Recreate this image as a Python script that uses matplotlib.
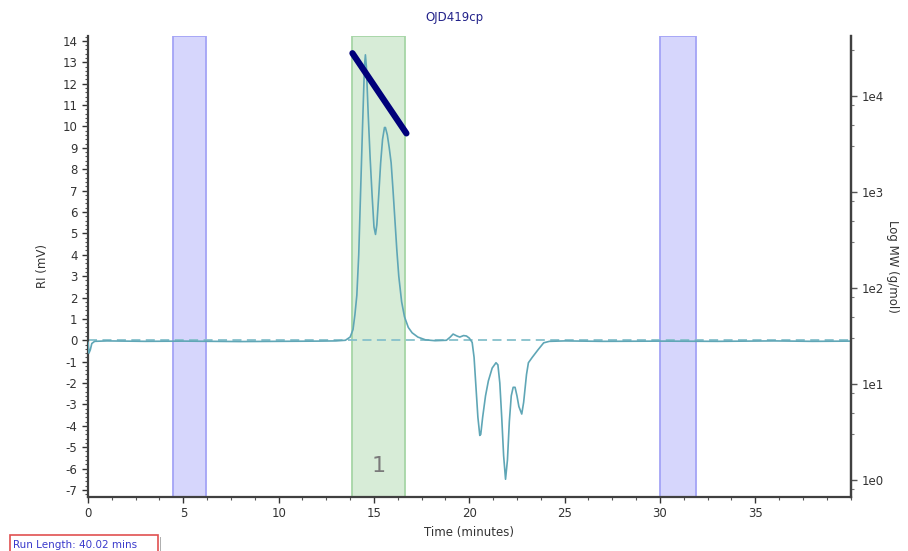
import matplotlib
matplotlib.use("Agg")
import matplotlib.pyplot as plt
from matplotlib.ticker import MultipleLocator, LogLocator, FixedLocator, NullFormatter
from matplotlib.patches import Rectangle

plt.rcParams['font.family'] = ['DejaVu Sans']
plt.rcParams['axes.unicode_minus'] = False

# RI detector trace (minutes, mV)
time_min = [0.0, 0.05, 0.12, 0.2, 0.35, 1.0, 3.0, 5.0, 8.0, 10.0, 12.0, 13.0, 13.5, 13.75,
            13.9, 14.0, 14.1, 14.2, 14.3, 14.4, 14.5, 14.55, 14.6, 14.7, 14.8, 14.9,
            15.0, 15.08, 15.15, 15.25, 15.35, 15.45, 15.55, 15.6, 15.7, 15.8, 15.9,
            16.0, 16.1, 16.2, 16.3, 16.45, 16.6, 16.8, 17.0, 17.3, 17.7, 18.2, 18.8,
            19.0, 19.15, 19.35, 19.5, 19.7, 19.85, 20.0, 20.15, 20.25, 20.35, 20.45,
            20.55, 20.6, 20.7, 20.85, 21.0, 21.2, 21.4, 21.5, 21.6, 21.7, 21.8, 21.9,
            22.0, 22.1, 22.2, 22.3, 22.4, 22.5, 22.6, 22.75, 22.85, 23.0, 23.1, 23.3,
            23.6, 23.9, 24.2, 25.0, 27.0, 30.0, 33.0, 36.0, 38.0, 40.02]
ri_mv = [-0.1, -0.6, -0.45, -0.15, -0.05, -0.03, -0.05, -0.04, -0.06, -0.05, -0.04, -0.03,
         0.0, 0.15, 0.5, 1.2, 2.1, 4.0, 7.0, 10.0, 12.8, 13.35, 12.8, 10.5, 8.5, 6.8,
         5.3, 4.95, 5.4, 6.8, 8.3, 9.4, 9.95, 9.95, 9.6, 9.0, 8.3, 7.0, 5.6, 4.2,
         3.0, 1.8, 1.1, 0.6, 0.35, 0.15, 0.02, -0.02, 0.0, 0.15, 0.29, 0.2, 0.15,
         0.22, 0.2, 0.1, -0.1, -0.8, -2.2, -3.6, -4.45, -4.4, -3.6, -2.6, -1.9, -1.3,
         -1.05, -1.15, -2.0, -3.6, -5.4, -6.5, -5.6, -3.8, -2.6, -2.2, -2.2, -2.6,
         -3.1, -3.45, -2.9, -1.6, -1.05, -0.8, -0.45, -0.12, -0.05, -0.03, -0.05,
         -0.04, -0.05, -0.03, -0.05, -0.04]

# Calibration curve over the integration window (minutes, g/mol)
calib_time = [13.87, 16.70]
calib_mw = [27900, 4080]

# Baseline / integration regions (minutes)
baseline_regions = [(4.47, 6.18), (29.98, 31.87)]
peak_region = (13.85, 16.62)
peak_label = "1"

x_ticks = [0, 5, 10, 15, 20, 25, 30, 35]
y_ticks = list(range(-7, 15))
mw_ticks = [1, 10, 100, 1000, 10000]
mw_tick_labels = ["1e0", "1e1", "1e2", "1e3", "1e4"]

run_length = 40.02

fig = plt.figure(figsize=(9.08, 5.51), dpi=100)
fig.patch.set_facecolor('white')
ax = fig.add_axes([88 / 908, 1 - 497 / 551, (851 - 88) / 908, (497 - 36) / 551])

ax.set_xlim(0, run_length)
ax.set_ylim(-7.33, 14.23)

spine_col = '#404040'
for s in ('left', 'bottom', 'right'):
    ax.spines[s].set_color(spine_col)
    ax.spines[s].set_linewidth(1.6)
ax.spines['top'].set_visible(False)

for lo, hi in baseline_regions:
    ax.axvspan(lo, hi, facecolor='#d6d6fc', edgecolor='#a4a4f6', linewidth=1.3, zorder=1)
ax.axvspan(peak_region[0], peak_region[1], facecolor='#d7ecd7', edgecolor='#a6d5a6',
           linewidth=1.3, zorder=1)
ax.text((peak_region[0] + peak_region[1]) / 2, -5.9, peak_label, ha='center', va='center',
        fontsize=16, color='#7a7a7a', zorder=3)

ax.axhline(0, color='#86c0cb', linewidth=1.3, linestyle=(0, (5, 3)), zorder=2)
ax.plot(time_min, ri_mv, color='#5fa6b6', linewidth=1.2, zorder=4)

ax.set_xticks(x_ticks)
ax.xaxis.set_minor_locator(MultipleLocator(1.25))
ax.set_yticks(y_ticks)
ax.yaxis.set_minor_locator(MultipleLocator(0.2))
ax.tick_params(axis='both', which='major', labelsize=8.5, colors='#333333', length=4, width=1)
ax.tick_params(axis='both', which='minor', length=2, width=0.8, colors='#555555')

ax.set_xlabel("Time (minutes)", fontsize=8.5, color='#333333', labelpad=4)
ax.set_ylabel("RI (mV)", fontsize=8.5, color='#333333', labelpad=10)

ax2 = ax.twinx()
ax2.set_yscale('log')
ax2.set_ylim(10 ** -0.177, 10 ** 4.625)
for s in ('left', 'bottom', 'top'):
    ax2.spines[s].set_visible(False)
ax2.spines['right'].set_color(spine_col)
ax2.spines['right'].set_linewidth(1.6)
ax2.yaxis.set_major_locator(FixedLocator(mw_ticks))
ax2.set_yticklabels(mw_tick_labels)
ax2.yaxis.set_minor_locator(LogLocator(base=10, subs=(3, 5, 8)))
ax2.yaxis.set_minor_formatter(NullFormatter())
ax2.tick_params(axis='y', which='major', labelsize=8.5, length=4, width=1, colors='#555555',
                labelcolor='#333333')
ax2.tick_params(axis='y', which='minor', length=2, width=0.8, colors='#777777')
ax2.set_ylabel("Log MW (g/mol)", fontsize=8.5, color='#333333', rotation=270, labelpad=11)
ax2.plot(calib_time, calib_mw, color='#00007a', linewidth=4.5, solid_capstyle='round', zorder=5)

fig.text(454 / 908, 1 - 18 / 551, "OJD419cp", ha='center', va='center', fontsize=8.5,
         color='#22228a')

fig.patches.append(Rectangle((160 / 908, -0.01), 1.2 / 908, (551 - 537) / 551 + 0.01,
                             transform=fig.transFigure, facecolor='#b0b0b0', edgecolor='none'))
fig.patches.append(Rectangle((10 / 908, -0.02), 148 / 908, (551 - 535) / 551 + 0.02,
                             transform=fig.transFigure, facecolor='white', edgecolor='#e05050',
                             linewidth=1.2))
fig.text(13 / 908, 1 - 545 / 551, f"Run Length: {run_length:.2f} mins", ha='left', va='center',
         fontsize=7.5, color='#3a3acc')

fig.savefig("out.png", dpi=100)
